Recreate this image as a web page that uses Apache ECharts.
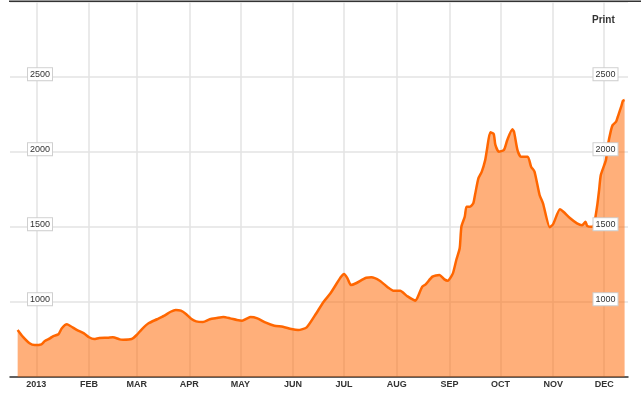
<!DOCTYPE html>
<html>
<head>
<meta charset="utf-8">
<script src="https://cdn.jsdelivr.net/npm/echarts@6/dist/echarts.min.js"></script>
<style>
html,body{margin:0;padding:0;background:#fff;}
#chart{width:641px;height:396px;}
</style>
</head>
<body>
<div id="chart"></div>
<script>
// ---- data ----
const dates = [
  '2012-12-21','2012-12-24','2012-12-28','2012-12-31',
  '2013-01-04','2013-01-06','2013-01-09','2013-01-11','2013-01-14','2013-01-16','2013-01-19','2013-01-21','2013-01-25','2013-01-29',
  '2013-02-01','2013-02-04','2013-02-07','2013-02-12','2013-02-15','2013-02-19','2013-02-21','2013-02-26',
  '2013-03-01','2013-03-04','2013-03-08','2013-03-13','2013-03-17','2013-03-21','2013-03-24','2013-03-27','2013-03-30',
  '2013-04-02','2013-04-05','2013-04-09','2013-04-13','2013-04-17','2013-04-21','2013-04-25','2013-04-29',
  '2013-05-02','2013-05-05','2013-05-07','2013-05-11','2013-05-16','2013-05-21','2013-05-26','2013-05-31',
  '2013-06-04','2013-06-09','2013-06-14','2013-06-19','2013-06-23','2013-06-29',
  '2013-07-01','2013-07-03','2013-07-05','2013-07-08','2013-07-12','2013-07-14','2013-07-17','2013-07-22','2013-07-27','2013-07-30',
  '2013-08-03','2013-08-07','2013-08-12','2013-08-13','2013-08-16','2013-08-18','2013-08-22','2013-08-26','2013-08-29','2013-08-31',
  '2013-09-03','2013-09-05','2013-09-07','2013-09-08','2013-09-10','2013-09-11','2013-09-13','2013-09-15','2013-09-16','2013-09-18',
  '2013-09-20','2013-09-22','2013-09-23','2013-09-25','2013-09-27','2013-09-28','2013-09-30',
  '2013-10-03','2013-10-05','2013-10-08','2013-10-09','2013-10-11','2013-10-13','2013-10-17','2013-10-19','2013-10-21','2013-10-24','2013-10-26','2013-10-30',
  '2013-11-01','2013-11-05','2013-11-07','2013-11-11','2013-11-15','2013-11-18','2013-11-20','2013-11-21','2013-11-24','2013-11-25','2013-11-27','2013-11-28','2013-11-29',
  '2013-12-02','2013-12-03','2013-12-05','2013-12-06','2013-12-08','2013-12-09','2013-12-11','2013-12-12','2013-12-13'
];
const values = [
  811,767,723,711,
  716,738,756,771,783,823,849,838,811,789,
  763,751,758,760,763,749,747,751,
  778,816,856,883,905,933,945,940,918,
  887,869,865,883,891,898,889,878,
  873,889,898,889,860,840,833,818,
  811,829,911,1000,1056,1163,
  1185,1156,1111,1123,1149,1160,1163,1140,1093,1073,
  1073,1038,1007,1023,1100,1116,1167,1178,1149,1140,
  1189,1278,1356,1500,1567,1633,1633,1656,1711,1822,
  1867,1944,2011,2129,2118,2045,2000,
  2011,2078,2149,2131,2011,1967,1967,1900,1867,1711,1656,1496,
  1518,1616,1600,1556,1522,1509,1533,1505,1500,1511,1650,1744,1844,
  1944,2033,2144,2178,2200,2233,2300,2340,2345
];
const monthLabels = ['2013','FEB','MAR','APR','MAY','JUN','JUL','AUG','SEP','OCT','NOV','DEC'];
const yTicks = [500, 1000, 1500, 2000, 2500, 3000];
const xRange = ['2012-12-16T12:00:00', '2013-12-15T00:00:00'];
const titleText = 'Print';

const FONT = '"Liberation Sans", Arial, sans-serif';
const seriesData = dates.map((d, i) => [d, values[i]]);

const labelRich = {
  a: {
    backgroundColor: '#fff', borderColor: '#cfcfcf', borderWidth: 1,
    padding: [2, 2, 1, 2], fontSize: 9, color: '#333', fontFamily: FONT, lineHeight: 10
  },
  b: { fontSize: 1, lineHeight: 5 }
};
function yLabelFmt(v) { return '{a|' + v + '}\n{b| }'; }

const yBase = {
  type: 'value',
  min: yTicks[0], max: yTicks[yTicks.length - 1], interval: 500,
  axisLine: { show: false }, axisTick: { show: false }
};

const chart = echarts.init(document.getElementById('chart'), null, { renderer: 'canvas' });
chart.setOption({
  animation: false,
  backgroundColor: '#fff',
  grid: { left: 10, right: 13, top: 1.7, bottom: 19.3, containLabel: false },
  xAxis: {
    type: 'time',
    min: xRange[0],
    max: xRange[1],
    minInterval: 28 * 86400000,
    maxInterval: 31 * 86400000,
    z: 1,
    axisLine: { show: true, lineStyle: { color: '#333', width: 1.5 } },
    axisTick: { show: false },
    splitLine: { show: true, showMinLine: false, showMaxLine: false, lineStyle: { color: '#e3e3e3', width: 1.5 } },
    axisLabel: {
      showMinLabel: false, showMaxLabel: false,
      margin: 3,
      fontSize: 9, fontWeight: 'bold', color: '#333', fontFamily: FONT,
      formatter: function (val) {
        const d = new Date(val);
        return monthLabels[d.getMonth()];
      }
    }
  },
  yAxis: [
    Object.assign({}, yBase, {
      position: 'left', z: 1,
      splitLine: { show: true, lineStyle: { color: '#e3e3e3', width: 1.5 } },
      axisLabel: { show: false }
    }),
    Object.assign({}, yBase, {
      position: 'left', z: 5, offset: 0,
      splitLine: { show: false },
      axisLabel: {
        inside: true, margin: 30, align: 'center',
        showMinLabel: false, showMaxLabel: false,
        formatter: yLabelFmt, rich: labelRich
      }
    }),
    Object.assign({}, yBase, {
      position: 'right', z: 5,
      splitLine: { show: false },
      axisLabel: {
        inside: true, margin: 22.5, align: 'center',
        showMinLabel: false, showMaxLabel: false,
        formatter: yLabelFmt, rich: labelRich
      }
    })
  ],
  series: [{
    type: 'line',
    yAxisIndex: 0,
    data: seriesData,
    showSymbol: false,
    symbol: 'none',
    smooth: 0.2,
    lineStyle: { color: '#ff6600', width: 2.5 },
    areaStyle: { color: '#ff6600', opacity: 0.52, origin: 'start' },
    z: 2
  }],
  graphic: [
    {
      type: 'line', z: 10,
      shape: { x1: 9, y1: 1.3, x2: 641, y2: 1.3 },
      style: { stroke: '#333', lineWidth: 1.6 }
    },
    {
      type: 'text', z: 10, left: 592, top: 15,
      style: { text: titleText, font: 'bold 10px ' + FONT, fill: '#333' }
    }
  ]
});
</script>
</body>
</html>
